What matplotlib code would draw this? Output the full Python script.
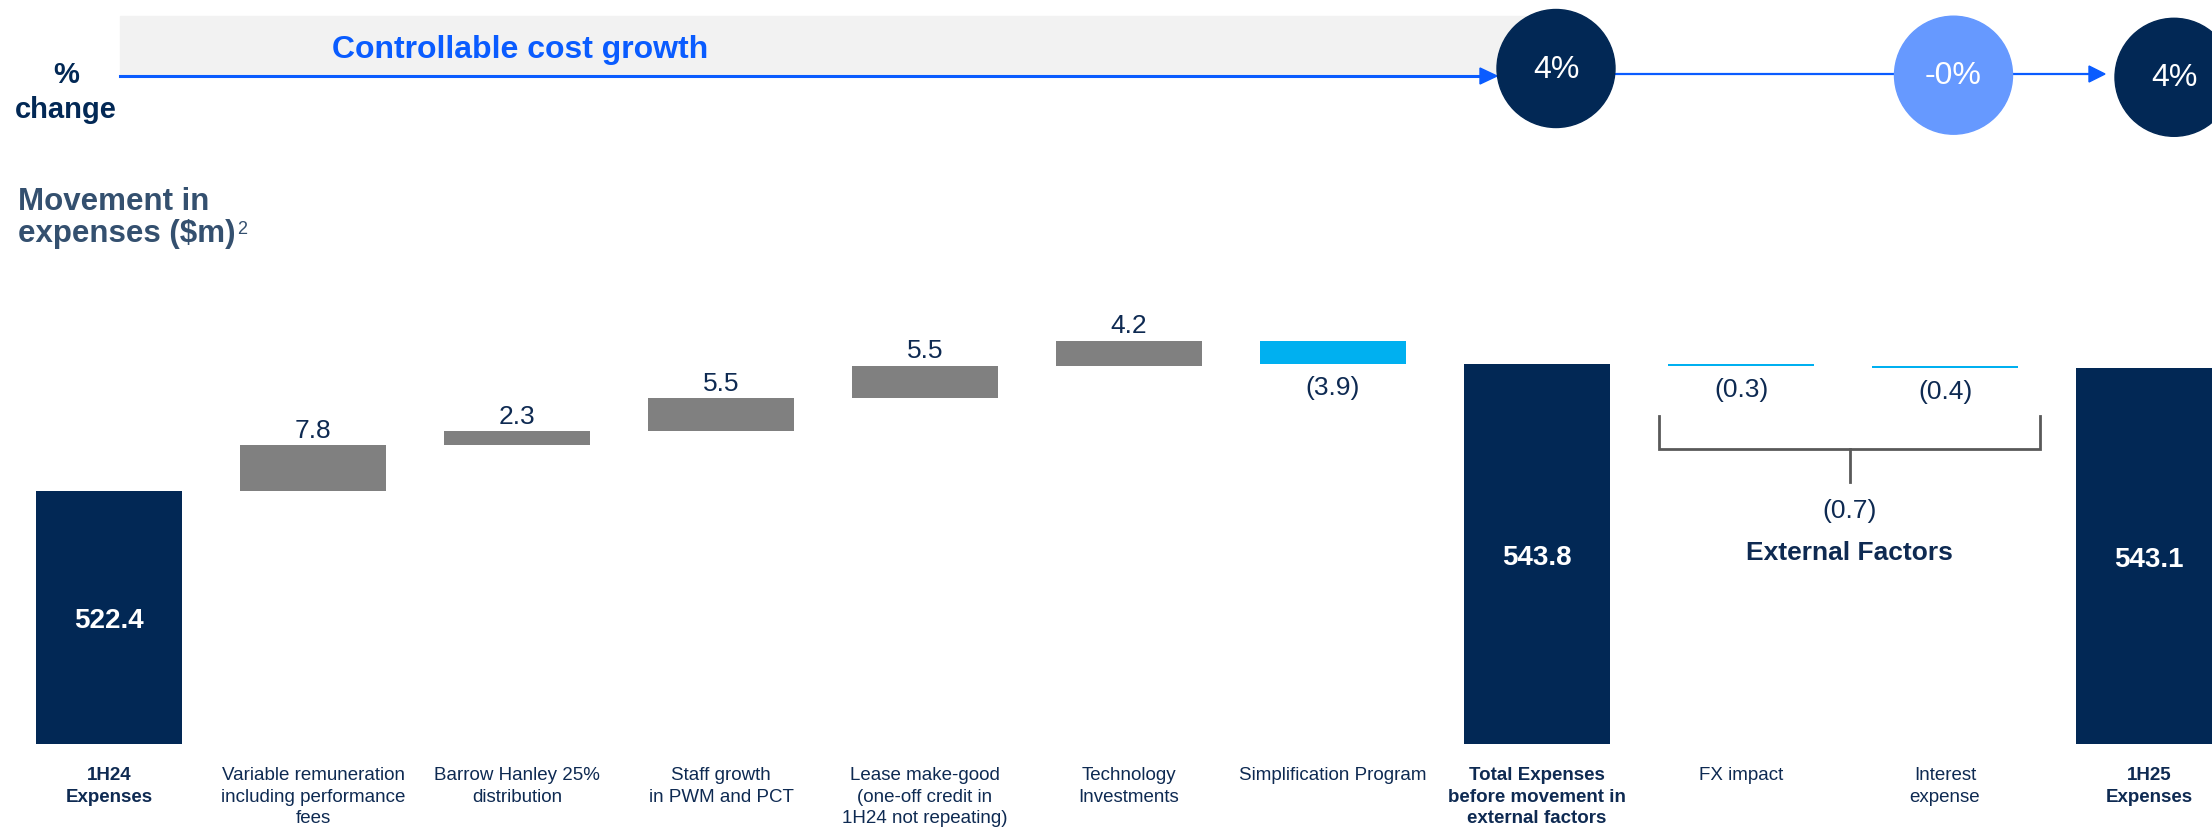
import matplotlib
matplotlib.use("Agg")
import matplotlib.pyplot as plt
from matplotlib.patches import Circle, Rectangle, Polygon
import numpy as np

plt.rcParams['font.family'] = ['Liberation Sans', 'DejaVu Sans']

# --- datos ---
categorias = ["1H24\nExpenses",
              "Variable remuneration\nincluding performance\nfees",
              "Barrow Hanley 25%\ndistribution",
              "Staff growth\nin PWM and PCT",
              "Lease make-good\n(one-off credit in\n1H24 not repeating)",
              "Technology\nInvestments",
              "Simplification Program",
              "Total Expenses\nbefore movement in\nexternal factors",
              "FX impact",
              "Interest\nexpense",
              "1H25\nExpenses"]
gasto_inicial = 522.4
mov_controlables = [7.8, 2.3, 5.5, 5.5, 4.2, -3.9]
mov_externos = [-0.3, -0.4]
negrita = [0, 7, 10]

# colores
NAVY = "#022855"
GRIS = "#808080"
CIAN = "#00B0F0"
AZUL = "#0A5CFF"
AZUL_CLARO = "#6699FF"
TEXTO = "#0E2A52"
PIZARRA = "#34506F"

subtotal = gasto_inicial + sum(mov_controlables)
gasto_final = subtotal + sum(mov_externos)

W, H = 2212, 829
fig = plt.figure(figsize=(W / 100, H / 100), dpi=100)

# ejes del waterfall: base en y=745 px, 5.958 px por $m
px_por_unidad = 5.958
base = 480.0
ax = fig.add_axes([0, 84 / H, 1, (745 - 300) / H])
ax.set_ylim(base, base + (745 - 300) / px_por_unidad)
ax.set_xlim(-109 / 204, (W - 109) / 204)
for s in ax.spines.values():
    s.set_visible(False)
ax.set_yticks([])

x = np.arange(len(categorias))
ancho = 0.716

# barras totales
totales = {0: gasto_inicial, 7: subtotal, 10: gasto_final}
for i, v in totales.items():
    ax.bar(x[i], v, width=ancho, color=NAVY)
    ax.annotate(f"{v:.1f}", (x[i], (base + v) / 2), xytext=(0, -2),
                textcoords='offset points', ha='center', va='center',
                color='white', fontsize=20, fontweight='bold')

# barras flotantes
movs = [(i + 1, m) for i, m in enumerate(mov_controlables)]
movs += [(8 + i, m) for i, m in enumerate(mov_externos)]
acumulado = gasto_inicial
for i, m in movs:
    if i == 8:
        acumulado = subtotal
    fondo = acumulado if m > 0 else acumulado + m
    ax.bar(x[i], abs(m), bottom=fondo, width=ancho,
           color=GRIS if m > 0 else CIAN)
    if m > 0:
        ax.annotate(f"{m:.1f}", (x[i], acumulado + m), xytext=(0, 6),
                    textcoords='offset points', ha='center', va='baseline',
                    fontsize=19, color=TEXTO)
    else:
        ax.annotate(f"({abs(m):.1f})", (x[i], acumulado + m), xytext=(0, -8),
                    textcoords='offset points', ha='center', va='top',
                    fontsize=19, color=TEXTO)
    acumulado += m

ax.set_xticks(x, categorias)
ax.tick_params(axis='x', length=0, pad=16, labelsize=13.5, labelcolor=TEXTO)
for i, lab in enumerate(ax.get_xticklabels()):
    lab.set_linespacing(1.34)
    if i in negrita:
        lab.set_fontweight('bold')

# llave de factores externos
izq, der = 7.6, 9.465
ax.plot([izq, izq, der, der], [535.0, 529.5, 529.5, 535.0], color="#595959", lw=2,
        solid_joinstyle='miter')
xm = (izq + der) / 2
ax.plot([xm, xm], [529.5, 524.0], color="#595959", lw=2)
ax.text(xm, 519.3, f"({abs(sum(mov_externos)):.1f})", ha='center', va='center',
        fontsize=19, color=TEXTO)
ax.text(xm, 512.3, "External Factors", ha='center', va='center',
        fontsize=19, fontweight='bold', color=TEXTO)

# cabecera en pixeles
ax0 = fig.add_axes([0, 0, 1, 1], zorder=-1)
ax0.set_xlim(0, W)
ax0.set_ylim(H, 0)
ax0.axis('off')
ax0.patch.set_alpha(0)

ax0.add_patch(Rectangle((120, 17), 1420, 60, color="#F2F2F2", zorder=1))
ax0.plot([120, 1482], [77, 77], color=AZUL, lw=2.2, zorder=2)
ax0.add_patch(Polygon([[1480, 69], [1480, 85], [1497, 77]], color=AZUL, zorder=2))
ax0.text(332, 58, "Controllable cost growth", fontsize=23, fontweight='bold',
         color=AZUL, ha='left', va='baseline', zorder=3)

ax0.plot([1600, 1900], [75.3, 75.3], color=AZUL, lw=1.6, zorder=2)
ax0.plot([2010, 2091], [75, 75], color=AZUL, lw=1.6, zorder=2)
ax0.add_patch(Polygon([[2089, 67], [2089, 83], [2105, 75]], color=AZUL, zorder=2))

pct_ctrl = (subtotal / gasto_inicial - 1) * 100
pct_ext = sum(mov_externos) / subtotal * 100
pct_total = (gasto_final / gasto_inicial - 1) * 100
circulos = [(1556, 69.5, NAVY, pct_ctrl),
            (1953.5, 76.2, AZUL_CLARO, pct_ext),
            (2174, 78.3, NAVY, pct_total)]
for cx, cy, col, p in circulos:
    ax0.add_patch(Circle((cx, cy), 59, color=col, zorder=4))
    ax0.text(cx, cy, f"{p:.0f}%", ha='center', va='center', fontsize=23,
             color='white', zorder=5)

ax0.text(66, 83, "%", ha='center', va='baseline', fontsize=21,
         fontweight='bold', color=NAVY)
ax0.text(66, 118, "change", ha='center', va='baseline', fontsize=21,
         fontweight='bold', color=NAVY)

ax0.text(18, 210, "Movement in", ha='left', va='baseline', fontsize=22.5,
         fontweight='bold', color=PIZARRA)
t = ax0.text(18, 242, "expenses ($m)", ha='left', va='baseline', fontsize=22.5,
             fontweight='bold', color=PIZARRA)

# superindice pegado al final del texto
fig.canvas.draw()
fin = t.get_window_extent().x1
ax0.text(fin + 2, 234, "2", ha='left', va='baseline', fontsize=13, color=PIZARRA)

fig.savefig("out.png", dpi=100)
